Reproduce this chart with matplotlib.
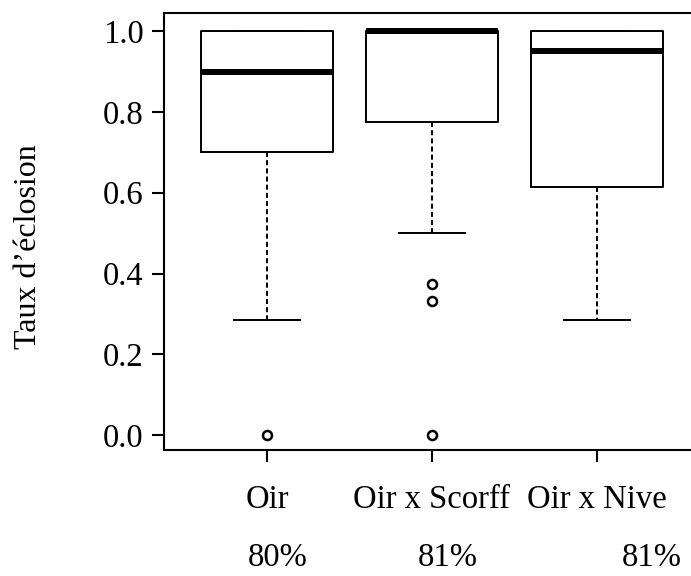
import matplotlib
matplotlib.use("Agg")
import matplotlib.pyplot as plt

plt.rcParams['font.family'] = ['Liberation Serif', 'DejaVu Serif']

# group labels and box statistics
groups = ["Oir", "Oir x Scorff", "Oir x Nive"]
percents = ["80%", "81%", "81%"]
q1 = [0.70, 0.775, 0.614]
med = [0.90, 1.00, 0.95]
q3 = [1.00, 1.00, 1.00]
whislo = [0.285, 0.50, 0.285]
whishi = [1.00, 1.00, 1.00]
outliers = [[0.0], [0.375, 0.333, 0.0], []]

stats = []
for i in range(len(groups)):
    stats.append({"label": groups[i], "q1": q1[i], "med": med[i], "q3": q3[i],
                  "whislo": whislo[i], "whishi": whishi[i], "fliers": outliers[i]})

fig = plt.figure(figsize=(6.91, 5.76), dpi=100)
ax = fig.add_axes([164/691, 126/576, 527/691, 437/576])

ax.bxp(stats, positions=[1, 2, 3], widths=0.8, capwidths=0.4,
       boxprops=dict(color="black", linewidth=1.4),
       medianprops=dict(color="black", linewidth=4.3, solid_capstyle="butt"),
       whiskerprops=dict(color="black", linewidth=1.4, linestyle=(0, (2.6, 1.6))),
       capprops=dict(color="black", linewidth=1.4),
       flierprops=dict(marker="o", markersize=6.5, markerfacecolor="white",
                       markeredgecolor="black", markeredgewidth=1.8))

ax.set_xlim(0.376, 3.57)
ax.set_ylim(-0.037, 1.045)
ax.set_yticks([0.0, 0.2, 0.4, 0.6, 0.8, 1.0])
ax.set_yticklabels(["0.0", "0.2", "0.4", "0.6", "0.8", "1.0"])
ax.set_xticks([1, 2, 3])
ax.set_xticklabels(groups)

ax.spines["right"].set_visible(False)
for s in ["left", "top", "bottom"]:
    ax.spines[s].set_linewidth(1.5)

ax.tick_params(axis="both", labelsize=23.5, length=8.5, width=1.5, direction="out")
ax.tick_params(axis="y", pad=6)
ax.tick_params(axis="x", pad=16)

# percentage row under the group names
pct_x = [1.067, 2.097, 3.333]
for xp, txt in zip(pct_x, percents):
    ax.text(xp, -0.305, txt, fontsize=23.5, ha="center", va="center")

fig.text(29/691, 1 - 247/576, "Taux d\u2019éclosion", rotation=90,
         fontsize=23, ha="center", va="center")

fig.savefig("out.png", dpi=100)
